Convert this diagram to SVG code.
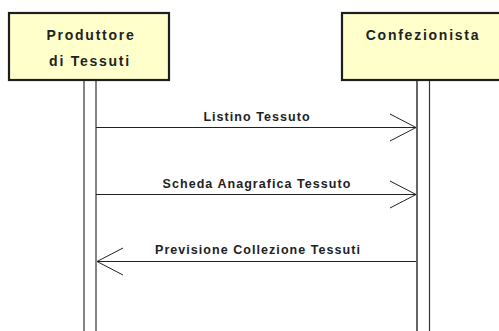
<svg xmlns="http://www.w3.org/2000/svg" width="499" height="331" viewBox="0 0 499 331">
<style>
.box{fill:#ffffcc;stroke:#1e1e1e;stroke-width:2.2}
.life{stroke:#333;stroke-width:1.2;fill:none}
.title{font-family:"Liberation Sans",Arial,sans-serif;font-weight:bold;font-size:14px;letter-spacing:1.75px;fill:#222;text-anchor:middle}
.msg{stroke:#222;stroke-width:1;fill:none}
.lbl{font-family:"Liberation Sans",Arial,sans-serif;font-weight:bold;font-size:12.5px;letter-spacing:1.05px;fill:#222;text-anchor:middle}
</style>
<rect width="499" height="331" fill="#ffffff"/>
<g id="produttore">
<rect class="box" x="9" y="13" width="160" height="67"/>
<text class="title" x="91" y="39.5">Produttore</text>
<text class="title" x="90" y="66">di Tessuti</text>
<line class="life" x1="84" y1="81" x2="84" y2="331"/>
<line class="life" x1="96" y1="81" x2="96" y2="331"/>
</g>
<g id="confezionista">
<rect class="box" x="342" y="13" width="164" height="67"/>
<text class="title" x="423" y="39.5">Confezionista</text>
<line class="life" x1="417" y1="81" x2="417" y2="331" style="stroke:#555;stroke-width:1.8"/>
<line class="life" x1="429.5" y1="81" x2="429.5" y2="331"/>
</g>
<g id="connectors">
<line class="msg" x1="96" y1="127.5" x2="416" y2="127.5"/>
<polyline class="msg" points="390,114 416,127.5 390,141"/>
<text class="lbl" x="257" y="120.5">Listino Tessuto</text>
<line class="msg" x1="96" y1="194.5" x2="416" y2="194.5"/>
<polyline class="msg" points="390,181 416,194.5 390,208"/>
<text class="lbl" x="257" y="187.5">Scheda Anagrafica Tessuto</text>
<line class="msg" x1="97" y1="261.5" x2="416" y2="261.5"/>
<polyline class="msg" points="123,248 97,261.5 123,275"/>
<text class="lbl" x="258" y="253.5">Previsione Collezione Tessuti</text>
</g>
</svg>
